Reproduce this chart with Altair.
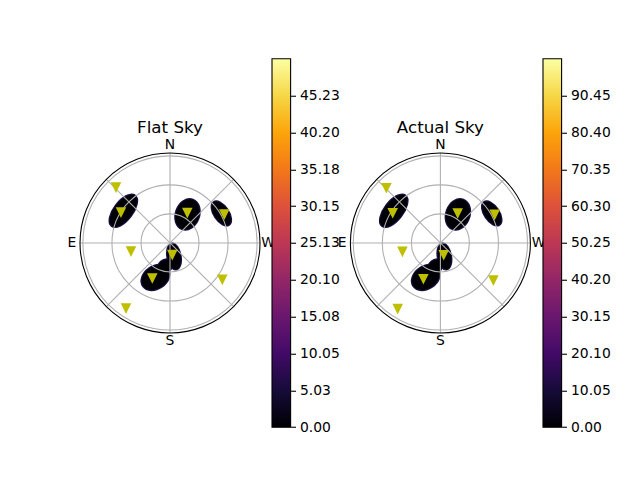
import altair as alt
import pandas as pd

# ---------------- data ----------------
titles = ["Flat Sky", "Actual Sky"]
cbar_max = [50.253, 100.5]
cbar_ticks_1 = [0.0, 5.0253, 10.0506, 15.0759, 20.1012, 25.1265, 30.1518, 35.1771, 40.2024, 45.2277]
cbar_ticks_2 = [0.0, 10.05, 20.10, 30.15, 40.20, 50.25, 60.30, 70.35, 80.40, 90.45]

# markers: azimuth (deg, N=0, E=90) and zenith distance (radial units)
mk1_az = [44.1, 57.9, 330.2, 297.9, 101.9, 191.0, 153.3, 235.1, 146.0]
mk1_r = [80.2, 59.8, 36.0, 63.5, 41.2, 12.4, 40.7, 65.9, 81.3]
mk2_az = [44.4, 57.7, 329.9, 297.7, 102.6, 195.6, 154.6, 234.9, 147.0]
mk2_r = [79.8, 58.3, 35.6, 63.4, 40.2, 12.7, 41.0, 66.9, 81.0]

# sky-map blobs (low values): centre az / zenith, extent in radial units, tilt
blob_az = [55.4, 328.5, 299.9, 196.5, 157.2, 168.0]
blob_r = [58.6, 34.6, 61.2, 14.6, 38.7, 24.8]
blob_major = [39.3, 32.0, 27.9, 26.9, 31.0, 16.5]
blob_minor = [18.6, 23.8, 14.5, 13.4, 22.7, 12.4]
blob_tilt = [307.5, 290.0, 56.0, 80.0, 325.0, 320.0]
blob_val = [0.2, 0.2, 0.2, 0.2, 0.2, 0.2]

grid_r = [30, 60, 90]
spoke_az = [0, 45, 90, 135, 180, 225, 270, 315]
dir_labels = ["N", "E", "S", "W"]
dir_az = [0, 90, 180, 270]
RMAX = 93.0
LABEL_R = 101.5

# ---------------- layout / style ----------------
PPU = 90.0 / RMAX          # pixels per radial unit
H = 368.4                  # panel height
CB_W = 18.6
FONT = "DejaVu Sans"
GRID = "#b0b0b0"
EDGE = "#1a0f40"
MARK = "#bfbf00"
inferno = ["#000004", "#160b39", "#420a68", "#6a176e", "#932667", "#bc3754",
           "#dd513a", "#f37819", "#fca50a", "#f6d746", "#fcffa4"]

XY = {"x": "-datum.r*sin(datum.az*PI/180)", "y": "datum.r*cos(datum.az*PI/180)"}


def polar_panel(title, mk_az, mk_r, vmax, left_px):
    W = left_px + 90.0
    xs = alt.Scale(domain=[-left_px / PPU, RMAX], nice=False, zero=False)
    yh = H / 2.0 / PPU
    ys = alt.Scale(domain=[-yh, yh], nice=False, zero=False)
    X = alt.X("x:Q", scale=xs, axis=None)
    Y = alt.Y("y:Q", scale=ys, axis=None)

    bdf = pd.DataFrame({"az": blob_az, "r": blob_r, "major": blob_major,
                        "minor": blob_minor, "tilt": blob_tilt, "val": blob_val})
    bbase = alt.Chart(bdf).transform_calculate(**XY).transform_calculate(
        path="'M -1 0 A 1 ' + (datum.minor/datum.major) + ' 0 1 1 1 0 A 1 ' + (datum.minor/datum.major) + ' 0 1 1 -1 0 Z'",
        sz=f"pow(datum.major*{PPU},2)",
    )

    benc = dict(x=X, y=Y, shape=alt.Shape("path:N", scale=None),
                size=alt.Size("sz:Q", scale=None), angle=alt.Angle("tilt:Q", scale=None))
    edge = bbase.mark_point(filled=True, opacity=1, fill=EDGE, stroke=EDGE,
                            strokeWidth=2.5).encode(**benc)
    fill = bbase.mark_point(filled=True, opacity=1, strokeWidth=0).encode(
        color=alt.Color("val:Q", scale=alt.Scale(scheme="inferno", domain=[0, vmax]), legend=None),
        **benc)

    grid = alt.Chart(pd.DataFrame({"rr": grid_r})).transform_calculate(
        x="0", y="0", sz=f"pow(2*datum.rr*{PPU},2)"
    ).mark_point(shape="circle", filled=False, opacity=1, stroke=GRID, strokeWidth=1.1).encode(
        x=X, y=Y, size=alt.Size("sz:Q", scale=None))

    spokes = alt.Chart(pd.DataFrame({"az": spoke_az})).transform_calculate(
        x0="0", y0="0", r=f"{RMAX}"
    ).transform_calculate(**XY).mark_rule(color=GRID, strokeWidth=1.1).encode(
        x=alt.X("x0:Q", scale=xs, axis=None), y=alt.Y("y0:Q", scale=ys, axis=None),
        x2="x:Q", y2="y:Q")

    frame = alt.Chart(pd.DataFrame({"rr": [RMAX]})).transform_calculate(
        x="0", y="0", sz=f"pow(2*datum.rr*{PPU},2)"
    ).mark_point(shape="circle", filled=False, opacity=1, stroke="black", strokeWidth=1.1).encode(
        x=X, y=Y, size=alt.Size("sz:Q", scale=None))

    mdf = pd.DataFrame({"az": mk_az, "r": mk_r})
    marks = alt.Chart(mdf).transform_calculate(**XY).mark_point(
        shape="M -1 -1 L 1 -1 L 0 1 Z", filled=True, opacity=1, size=69,
        fill=MARK, stroke=MARK, strokeWidth=1.4).encode(x=X, y=Y)

    ldf = pd.DataFrame({"lab": dir_labels, "az": dir_az})
    labels = alt.Chart(ldf).transform_calculate(r=f"{LABEL_R}").transform_calculate(**XY).mark_text(
        font=FONT, fontSize=13.9, color="black", align="center", baseline="middle").encode(
        x=X, y=Y, text="lab:N")

    ttl = alt.Chart(pd.DataFrame({"t": [title]})).mark_text(
        font=FONT, fontSize=16.7, color="black", align="center", baseline="alphabetic").encode(
        x=alt.value(left_px), y=alt.value(74.5), text="t:N")

    return alt.layer(edge, fill, grid, spokes, frame, marks, labels, ttl).properties(
        width=W, height=H)


def colorbar(vmax, ticks):
    df = pd.DataFrame({"lo": [0.0], "hi": [vmax]})
    grad = alt.Gradient(
        gradient="linear",
        stops=[alt.GradientStop(offset=i / (len(inferno) - 1), color=c) for i, c in enumerate(inferno)],
        x1=0, x2=0, y1=1, y2=0)
    return alt.Chart(df).mark_rect(fill=grad, stroke="black", strokeWidth=1.1).encode(
        x=alt.value(0), x2=alt.value(CB_W),
        y=alt.Y("lo:Q", scale=alt.Scale(domain=[0, vmax], nice=False, zero=False),
                axis=alt.Axis(orient="right", values=ticks, format=".2f", title=None, grid=False,
                              domain=False, ticks=True, tickSize=4.9, tickWidth=1.1,
                              tickColor="black", labelColor="black", labelFontSize=13.9,
                              labelFont=FONT, labelPadding=4, labelFlush=False,
                              labelOverlap=False)),
        y2=alt.Y2("hi:Q"),
    ).properties(width=CB_W, height=H)


p1 = polar_panel(titles[0], mk1_az, mk1_r, cbar_max[0], 110.0)
c1 = colorbar(cbar_max[0], cbar_ticks_1)
p2 = polar_panel(titles[1], mk2_az, mk2_r, cbar_max[1], 137.4)
c2 = colorbar(cbar_max[1], cbar_ticks_2)

chart = alt.hconcat(p1, c1, p2, c2, spacing=12, bounds="flush").properties(
    padding={"left": 52, "top": 49.75, "right": 5, "bottom": 5}
).configure(font=FONT).configure_view(stroke=None)

chart.save("out.html", embed_options={"renderer": "svg", "actions": False})
